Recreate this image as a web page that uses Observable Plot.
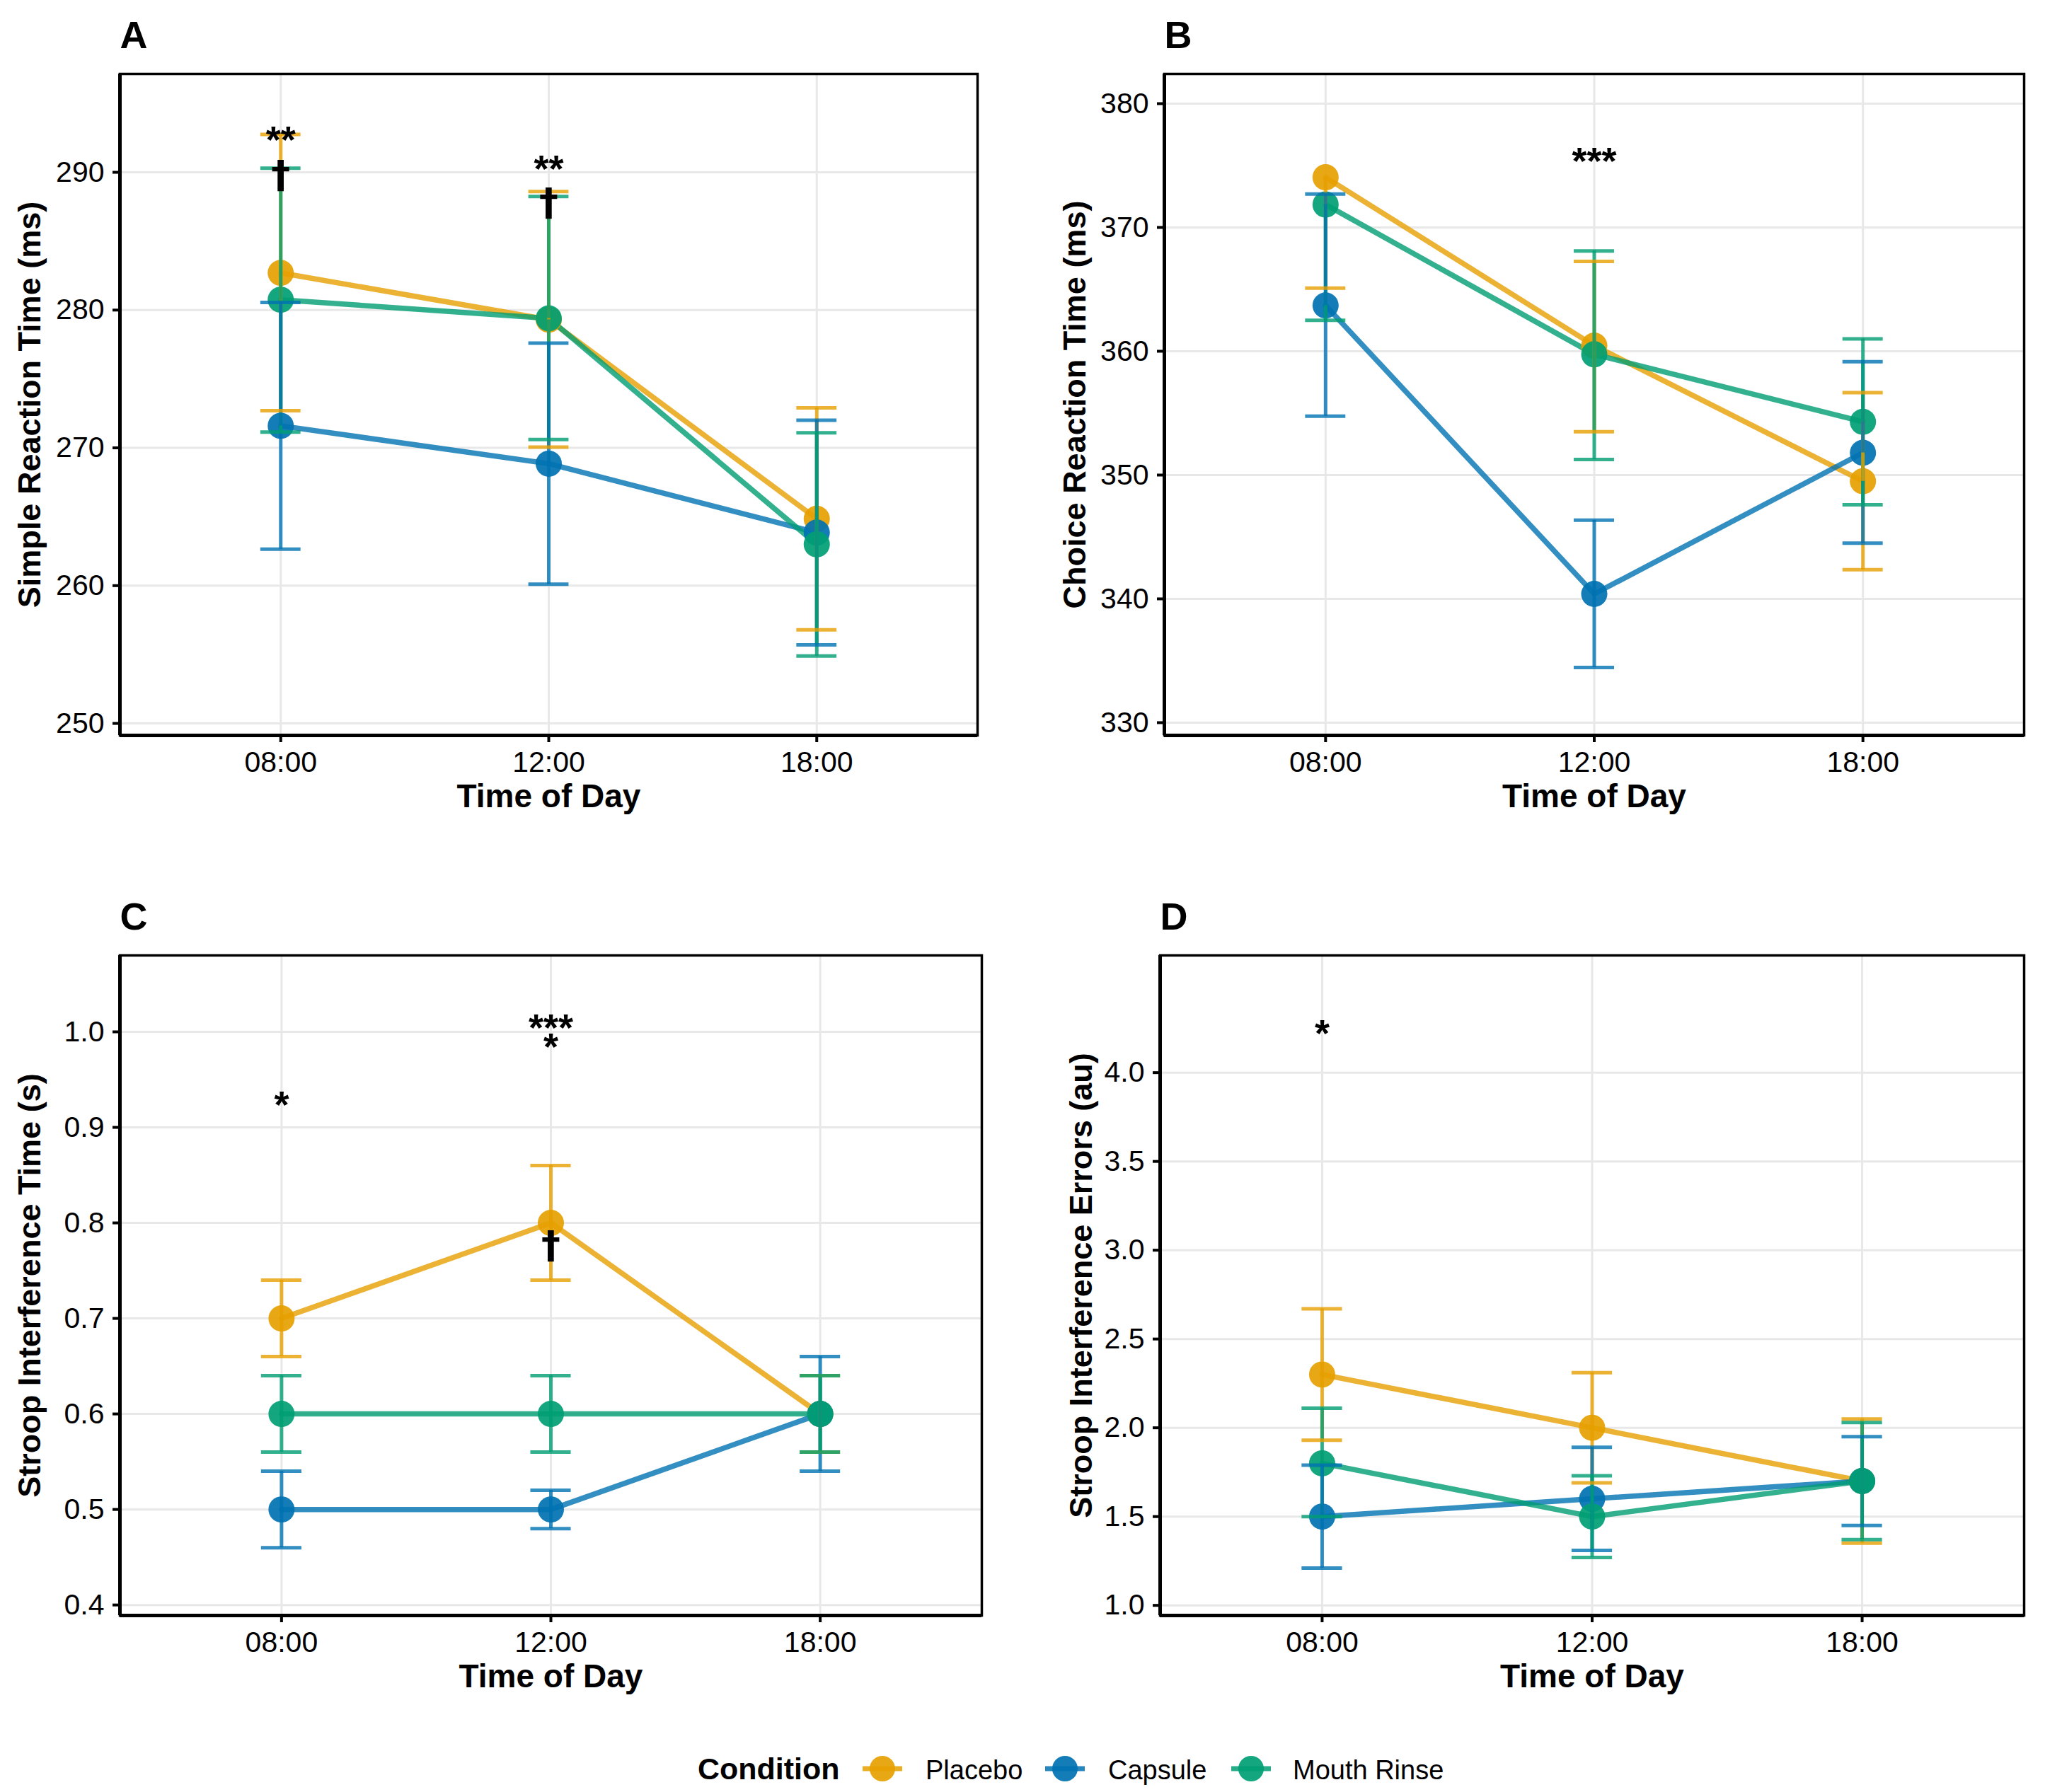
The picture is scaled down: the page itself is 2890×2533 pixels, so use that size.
<!DOCTYPE html>
<html>
<head>
<meta charset="utf-8">
<script src="https://cdn.jsdelivr.net/npm/d3@7"></script>
<script src="https://cdn.jsdelivr.net/npm/@observablehq/plot@0.6"></script>
<style>
  html, body { margin: 0; padding: 0; background: #fff; }
  #root { position: relative; width: 2890px; height: 2533px; background: #fff; overflow: hidden;
          font-family: "Liberation Sans", Arial, Helvetica, sans-serif; }
  .panel { position: absolute; width: 1445px; height: 1200px; }
</style>
</head>
<body>
<div id="root"></div>
<script>
// ---------- shared categories ----------
const times = ["08:00", "12:00", "18:00"];
const conditions = ["Placebo", "Capsule", "Mouth Rinse"];
const colors = ["#E69F00", "#0072B2", "#009E73"];

// ---------- Panel A: Simple Reaction Time (ms) ----------
// rows: Placebo, Capsule, Mouth Rinse ; columns: 08:00, 12:00, 18:00
const srtMean = [[282.7, 279.3, 264.85], [271.6, 268.85, 263.85], [280.75, 279.4, 263.0]];
const srtLow  = [[272.7, 270.05, 256.8], [262.65, 260.1, 255.7], [271.15, 270.6, 254.9]];
const srtHigh = [[292.75, 288.6, 272.9], [280.55, 277.6, 272.0], [290.3, 288.25, 271.1]];
const srtTicks = [250, 260, 270, 280, 290];
const srtStars = [{time: "08:00", label: "**", y: 292.6}, {time: "12:00", label: "**", y: 290.5}];
const srtDaggers = [{time: "08:00", label: "†", y: 289.7}, {time: "12:00", label: "†", y: 287.7}];

// ---------- Panel B: Choice Reaction Time (ms) ----------
const crtMean = [[374.05, 360.45, 349.5], [363.7, 340.4, 351.8], [371.85, 359.75, 354.3]];
const crtLow  = [[365.1, 353.5, 342.35], [354.75, 334.45, 344.5], [362.5, 351.25, 347.6]];
const crtHigh = [[null, 367.25, 356.65], [372.7, 346.35, 359.15], [null, 368.1, 361.0]];
const crtTicks = [330, 340, 350, 360, 370, 380];
const crtStars = [{time: "12:00", label: "***", y: 375.6}];
const crtDaggers = [];

// ---------- Panel C: Stroop Interference Time (s) ----------
const sitMean = [[0.70, 0.80, 0.60], [0.50, 0.50, 0.60], [0.60, 0.60, 0.60]];
const sitLow  = [[0.66, 0.74, 0.56], [0.46, 0.48, 0.54], [0.56, 0.56, 0.56]];
const sitHigh = [[0.74, 0.86, 0.64], [0.54, 0.52, 0.66], [0.64, 0.64, 0.64]];
const sitTicks = [0.4, 0.5, 0.6, 0.7, 0.8, 0.9, 1.0];
const sitStars = [{time: "08:00", label: "*", y: 0.927}, {time: "12:00", label: "***", y: 1.0075}, {time: "12:00", label: "*", y: 0.988}];
const sitDaggers = [{time: "12:00", label: "†", y: 0.7756}];

// ---------- Panel D: Stroop Interference Errors (au) ----------
const sieMean = [[2.30, 2.00, 1.70], [1.50, 1.60, 1.70], [1.80, 1.50, 1.70]];
const sieLow  = [[1.93, 1.69, 1.35], [1.21, 1.31, 1.45], [1.50, 1.27, 1.37]];
const sieHigh = [[2.67, 2.31, 2.05], [1.79, 1.89, 1.95], [2.11, 1.73, 2.03]];
const sieTicks = [1.0, 1.5, 2.0, 2.5, 3.0, 3.5, 4.0];
const sieStars = [{time: "08:00", label: "*", y: 4.24}];
const sieDaggers = [];

const FONT = "Liberation Sans, Arial, Helvetica, sans-serif";

function makePanel(cfg) {
  const rows = [];
  conditions.forEach((c, ci) => times.forEach((t, ti) => {
    rows.push({cond: c, time: t, x: ti + 1, mean: cfg.mean[ci][ti], lo: cfg.low[ci][ti], hi: cfg.high[ci][ti]});
  }));
  const upper = rows.filter(d => d.hi != null);
  const xOf = t => times.indexOf(t) + 1;
  const capHalf = 0.075;

  const plot = Plot.plot({
    width: 1445,
    height: 1200,
    marginLeft: cfg.ml, marginRight: cfg.mr, marginTop: cfg.mt, marginBottom: cfg.mb,
    style: {fontFamily: FONT, background: "transparent", overflow: "visible", color: "black"},
    x: {domain: [0.4, 3.6]},
    y: {domain: cfg.domain},
    color: {domain: conditions, range: colors},
    marks: [
      Plot.gridX([1, 2, 3], {stroke: "#e8e8e8", strokeOpacity: 1, strokeWidth: 3}),
      Plot.gridY(cfg.ticks, {stroke: "#e8e8e8", strokeOpacity: 1, strokeWidth: 3}),
      Plot.line(rows, {x: "x", y: "mean", z: "cond", stroke: "cond", strokeWidth: 7.5, strokeOpacity: 0.8}),
      Plot.dot(rows, {x: "x", y: "mean", fill: "cond", r: 18.5, fillOpacity: 0.92}),
      Plot.ruleX(rows, {x: "x", y1: "lo", y2: "mean", stroke: "cond", strokeWidth: 5, strokeOpacity: 0.8, clip: true}),
      Plot.ruleX(upper, {x: "x", y1: "mean", y2: "hi", stroke: "cond", strokeWidth: 5, strokeOpacity: 0.8, clip: true}),
      Plot.ruleY(rows, {y: "lo", x1: d => d.x - capHalf, x2: d => d.x + capHalf, stroke: "cond", strokeWidth: 5, strokeOpacity: 0.8, clip: true}),
      Plot.ruleY(upper, {y: "hi", x1: d => d.x - capHalf, x2: d => d.x + capHalf, stroke: "cond", strokeWidth: 5, strokeOpacity: 0.8, clip: true}),
      Plot.text(cfg.stars, {x: d => xOf(d.time), y: "y", text: "label", fontSize: 54, fontWeight: "bold", lineAnchor: "bottom", dy: 23, fill: "black"}),
      Plot.text(cfg.daggers, {x: d => xOf(d.time), y: "y", text: "label", fontSize: 54, fontWeight: "bold", fontFamily: "DejaVu Sans", lineAnchor: "bottom", dy: 16, fill: "black"}),
      Plot.frame({stroke: "black", strokeWidth: 3.5}),
      Plot.ruleX([0.4], {stroke: "black", strokeWidth: 5}),
      Plot.ruleY([cfg.domain[0]], {stroke: "black", strokeWidth: 5}),
      Plot.axisX({ticks: [1, 2, 3], tickFormat: i => times[i - 1], tickSize: 10, tickPadding: 12, fontSize: 41, label: null, strokeWidth: 4}),
      Plot.axisY({ticks: cfg.ticks, tickFormat: cfg.fmt, tickSize: 10, tickPadding: 12, fontSize: 41, label: null, strokeWidth: 4}),
      Plot.text([cfg.ylabel], {text: d => d, frameAnchor: "left", textAnchor: "middle", rotate: -90, dx: cfg.ylabDx, lineAnchor: "bottom", fontSize: 45, fontWeight: "bold"}),
      Plot.text(["Time of Day"], {text: d => d, frameAnchor: "bottom", textAnchor: "middle", lineAnchor: "bottom", dy: 101, fontSize: 46, fontWeight: "bold"}),
      Plot.text([cfg.letter], {text: d => d, frameAnchor: "top-left", textAnchor: "start", lineAnchor: "bottom", dy: -37, fontSize: 54, fontWeight: "bold"})
    ]
  });
  const div = document.createElement("div");
  div.className = "panel";
  div.style.left = cfg.left + "px";
  div.style.top = cfg.top + "px";
  div.appendChild(plot);
  document.getElementById("root").appendChild(div);
}

const f0 = d3.format("d");
const f1 = d3.format(".1f");

makePanel({letter: "A", ylabel: "Simple Reaction Time (ms)", mean: srtMean, low: srtLow, high: srtHigh,
  ticks: srtTicks, fmt: f0, stars: srtStars, daggers: srtDaggers, domain: [249.13, 297.14],
  left: 0, top: 0, ml: 169, mr: 64, mt: 104, mb: 161, ylabDx: -113});
makePanel({letter: "B", ylabel: "Choice Reaction Time (ms)", mean: crtMean, low: crtLow, high: crtHigh,
  ticks: crtTicks, fmt: f0, stars: crtStars, daggers: crtDaggers, domain: [328.97, 382.4],
  left: 1445, top: 0, ml: 200, mr: 30, mt: 104, mb: 161, ylabDx: -112});
makePanel({letter: "C", ylabel: "Stroop Interference Time (s)", mean: sitMean, low: sitLow, high: sitHigh,
  ticks: sitTicks, fmt: f1, stars: sitStars, daggers: sitDaggers, domain: [0.389, 1.080],
  left: 0, top: 1246, ml: 169, mr: 58, mt: 104, mb: 163, ylabDx: -113});
makePanel({letter: "D", ylabel: "Stroop Interference Errors (au)", mean: sieMean, low: sieLow, high: sieHigh,
  ticks: sieTicks, fmt: f1, stars: sieStars, daggers: sieDaggers, domain: [0.943, 4.66],
  left: 1445, top: 1246, ml: 194, mr: 30, mt: 104, mb: 163, ylabDx: -97});

// ---------- Legend ----------
const legendKeyX = [1247, 1505, 1768];
const legendLabelX = [1308, 1566, 1827];
const lg = d3.select("#root").append("svg")
  .attr("width", 2890).attr("height", 100)
  .style("position", "absolute").style("left", "0px").style("top", "2440px")
  .style("font-family", FONT);
lg.append("text").attr("x", 986).attr("y", 75).attr("font-size", 43).attr("font-weight", "bold").text("Condition");
conditions.forEach((c, i) => {
  const g = lg.append("g");
  g.append("line").attr("x1", legendKeyX[i] - 28).attr("x2", legendKeyX[i] + 28).attr("y1", 60).attr("y2", 60)
    .attr("stroke", colors[i]).attr("stroke-width", 7).attr("stroke-opacity", 0.85);
  g.append("circle").attr("cx", legendKeyX[i]).attr("cy", 60).attr("r", 18).attr("fill", colors[i]).attr("fill-opacity", 0.92);
  lg.append("text").attr("x", legendLabelX[i]).attr("y", 75).attr("font-size", 38).text(c);
});
</script>
</body>
</html>
